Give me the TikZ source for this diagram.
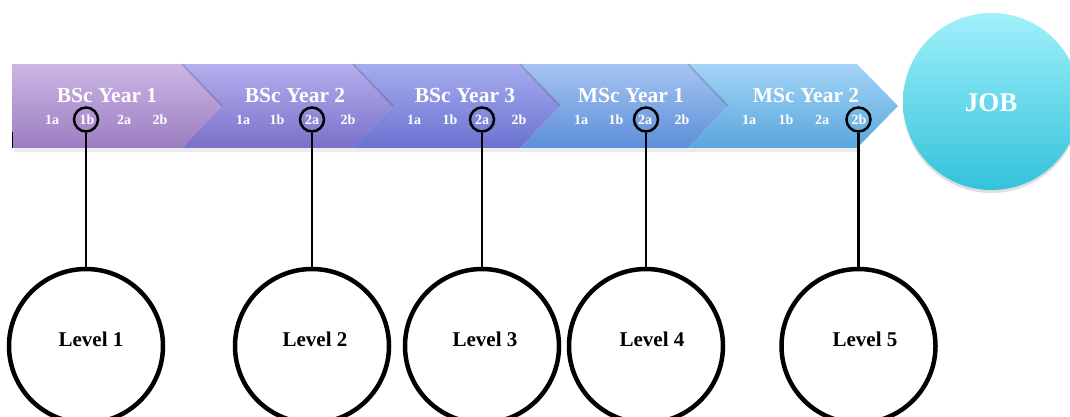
\documentclass[tikz,border=0pt]{standalone}
\usepackage{fontspec}
\setmainfont{Liberation Serif}
\usetikzlibrary{shadows}

\definecolor{cAtop}{HTML}{CBB6E3}\definecolor{cAbot}{HTML}{9C7EC2}
\definecolor{cBtop}{HTML}{B4B0EE}\definecolor{cBbot}{HTML}{7A70C9}
\definecolor{cCtop}{HTML}{A6ACEF}\definecolor{cCbot}{HTML}{6B72D0}
\definecolor{cDtop}{HTML}{A6C4F2}\definecolor{cDbot}{HTML}{5D8ED8}
\definecolor{cEtop}{HTML}{A4D5F6}\definecolor{cEbot}{HTML}{58A6DD}
\definecolor{jobtop}{HTML}{A0F0FA}\definecolor{jobbot}{HTML}{33C2DB}

\begin{document}
\begin{tikzpicture}[x=1pt,y=-1pt,
  yeartitle/.style={text=white,font=\bfseries\fontsize{21.5}{22}\selectfont,anchor=base,inner sep=0pt},
  term/.style={text=white,font=\bfseries\fontsize{14}{14}\selectfont,anchor=base,inner sep=0pt},
  pick/.style={circle,draw=black,line width=2.5pt,minimum size=24pt,inner sep=0pt},
  levelring/.style={circle,draw=black,fill=white,line width=4.5pt,minimum size=154pt,inner sep=0pt},
  leveltext/.style={font=\bfseries\fontsize{21}{21}\selectfont,anchor=base,inner sep=0pt},
  link/.style={draw=black,line width=2.5pt},
  tipshade/.style={draw=black,draw opacity=0.18,line width=1.6pt},
]
\useasboundingbox (0,0) rectangle (1070,416);
\clip (0,0) rectangle (1070,416);

% faint shadow under the band
\fill[black,opacity=0.08] (14,149) -- (859,149) -- (862,152) -- (14,152) -- cycle;

% chevron band
\shade[top color=cAtop,bottom color=cAbot]
  (12,64) -- (182,64) -- (222,106) -- (182,148) -- (12,148) -- cycle;
\shade[top color=cBtop,bottom color=cBbot]
  (182,64) -- (353,64) -- (393,106) -- (353,148) -- (182,148) -- (222,106) -- cycle;
\shade[top color=cCtop,bottom color=cCbot]
  (353,64) -- (520,64) -- (560,106) -- (520,148) -- (353,148) -- (393,106) -- cycle;
\shade[top color=cDtop,bottom color=cDbot]
  (520,64) -- (688,64) -- (728,106) -- (688,148) -- (520,148) -- (560,106) -- cycle;
\shade[top color=cEtop,bottom color=cEbot]
  (688,64) -- (857,64) -- (898,106) -- (857,148) -- (688,148) -- (728,106) -- cycle;

% soft edge along each arrow tip
\foreach \x in {182,353,520,688}
  \draw[tipshade] (\x,64) -- (\x+40,106);

% small mark at the left end of the band
\draw[black,line width=1.5pt] (12.5,132) -- (12.5,148);

% year titles
\node[yeartitle] (t1) at (107,102) {BSc Year 1};
\node[yeartitle] (t2) at (295,102) {BSc Year 2};
\node[yeartitle] (t3) at (465,102) {BSc Year 3};
\node[yeartitle] (t4) at (631,102) {MSc Year 1};
\node[yeartitle] (t5) at (806,102) {MSc Year 2};

% terms
\foreach \a/\b/\c/\d [count=\i] in {52/87/124/160, 243/277/312/348,
    414/450/482/519, 581/616/645/682, 749/786/822/859}{
  \node[term] (s\i a) at (\a,124) {1a};
  \node[term] (s\i b) at (\b,124) {1b};
  \node[term] (s\i c) at (\c,124) {2a};
  \node[term] (s\i d) at (\d,124) {2b};
}

% JOB
\node[circle,minimum size=177pt,inner sep=0pt,top color=jobtop,bottom color=jobbot,
      drop shadow={opacity=0.25,shadow xshift=0pt,shadow yshift=-3pt}] (job) at (991.5,101.5) {};
\node[text=white,font=\bfseries\fontsize{27}{27}\selectfont,anchor=base,inner sep=0pt] (jobt) at (991,111.5) {JOB};

% selected terms
\node[pick] (p1) at (86,119.5) {};
\node[pick] (p2) at (312,119.5) {};
\node[pick] (p3) at (482,119.5) {};
\node[pick] (p4) at (646,119.5) {};
\node[pick] (p5) at (858.5,119.5) {};

% levels
\node[levelring] (L1) at (86,346) {};
\node[levelring] (L2) at (312,346) {};
\node[levelring] (L3) at (482,346) {};
\node[levelring] (L4) at (646,346) {};
\node[levelring] (L5) at (858.5,346) {};
\node[leveltext] (l1) at (91,346) {Level 1};
\node[leveltext] (l2) at (315,346) {Level 2};
\node[leveltext] (l3) at (485,346) {Level 3};
\node[leveltext] (l4) at (652,346) {Level 4};
\node[leveltext] (l5) at (865,346) {Level 5};

% connectors
\foreach \i in {1,...,5}
  \draw[link] (p\i) -- (L\i);
\end{tikzpicture}
\end{document}
